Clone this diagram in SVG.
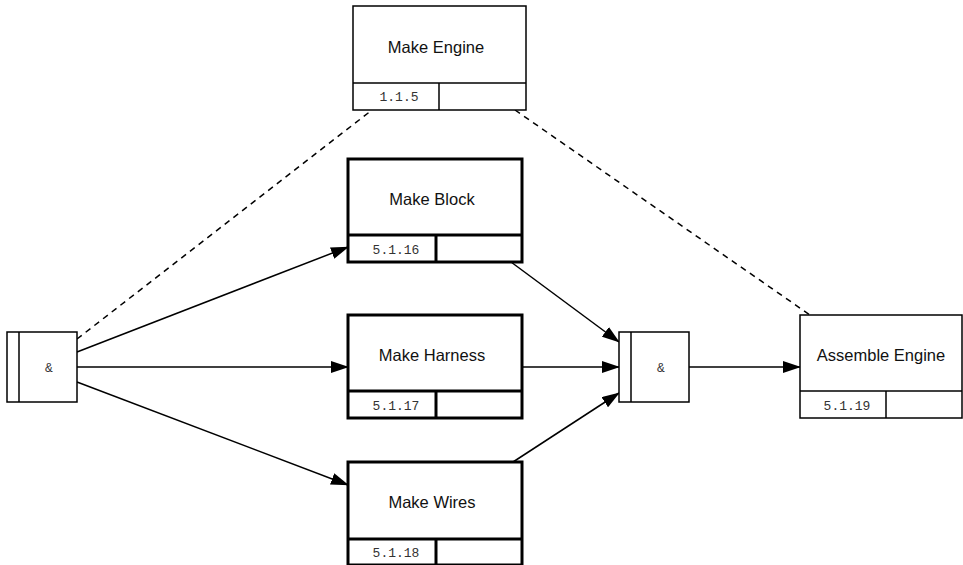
<svg xmlns="http://www.w3.org/2000/svg" width="963" height="565" viewBox="0 0 963 565">
<defs>
<marker id="arr" markerWidth="18" markerHeight="12" refX="17" refY="6" orient="auto" markerUnits="userSpaceOnUse">
<path d="M0,0 L18,6 L0,12 Z" fill="#000"/>
</marker>
<style>
.thin{fill:#fff;stroke:#000;stroke-width:1.5}
.thick{fill:#fff;stroke:#000;stroke-width:3}
.ln{fill:none;stroke:#000;stroke-width:1.5}
.lnk{fill:none;stroke:#000;stroke-width:3}
.lbl{font-family:"Liberation Sans",Arial,sans-serif;font-size:16.5px;fill:#111;text-anchor:middle}
.num{font-family:"Liberation Mono","Courier New",monospace;font-size:13px;fill:#333;text-anchor:middle}
.con{fill:none;stroke:#000;stroke-width:1.5}
.dash{stroke-dasharray:6,5}
</style>
</defs>
<rect width="963" height="565" fill="#fff"/>
<g id="connectors">
<line class="con dash" x1="77" y1="339" x2="372" y2="110"/>
<line class="con dash" x1="515" y1="110" x2="810" y2="315"/>
<line class="con" x1="77" y1="352" x2="348" y2="247" marker-end="url(#arr)"/>
<line class="con" x1="77" y1="367" x2="348" y2="367" marker-end="url(#arr)"/>
<line class="con" x1="77" y1="382" x2="348" y2="485" marker-end="url(#arr)"/>
<line class="con" x1="511" y1="262" x2="619" y2="342" marker-end="url(#arr)"/>
<line class="con" x1="522" y1="367" x2="619" y2="367" marker-end="url(#arr)"/>
<line class="con" x1="513" y1="462" x2="619" y2="393" marker-end="url(#arr)"/>
<line class="con" x1="689" y1="367" x2="800" y2="367" marker-end="url(#arr)"/>
</g>
<g id="make-engine">
<rect class="thin" x="353" y="6" width="173" height="104"/>
<line class="ln" x1="353" y1="83" x2="526" y2="83"/>
<line class="ln" x1="439" y1="83" x2="439" y2="110"/>
<text class="lbl" x="436" y="53">Make Engine</text>
<text class="num" x="399" y="101">1.1.5</text>
</g>
<g id="make-block">
<rect class="thick" x="348" y="159" width="174" height="103"/>
<line class="lnk" x1="348" y1="235" x2="522" y2="235"/>
<line class="lnk" x1="436" y1="235" x2="436" y2="262"/>
<text class="lbl" x="432" y="205">Make Block</text>
<text class="num" x="396" y="254">5.1.16</text>
</g>
<g id="make-harness">
<rect class="thick" x="348" y="315" width="174" height="103"/>
<line class="lnk" x1="348" y1="391" x2="522" y2="391"/>
<line class="lnk" x1="436" y1="391" x2="436" y2="418"/>
<text class="lbl" x="432" y="361">Make Harness</text>
<text class="num" x="396" y="410">5.1.17</text>
</g>
<g id="make-wires">
<rect class="thick" x="348" y="462" width="174" height="103"/>
<line class="lnk" x1="348" y1="539" x2="522" y2="539"/>
<line class="lnk" x1="436" y1="539" x2="436" y2="565"/>
<text class="lbl" x="432" y="508">Make Wires</text>
<text class="num" x="396" y="557">5.1.18</text>
</g>
<g id="and-left">
<rect class="thin" x="7" y="332" width="70" height="70"/>
<line class="ln" x1="19" y1="332" x2="19" y2="402"/>
<text class="num" x="49" y="372">&amp;</text>
</g>
<g id="and-right">
<rect class="thin" x="619" y="332" width="70" height="70"/>
<line class="ln" x1="631" y1="332" x2="631" y2="402"/>
<text class="num" x="661" y="372">&amp;</text>
</g>
<g id="assemble-engine">
<rect class="thin" x="800" y="315" width="162" height="103"/>
<line class="ln" x1="800" y1="391" x2="962" y2="391"/>
<line class="ln" x1="886" y1="391" x2="886" y2="418"/>
<text class="lbl" x="881" y="361">Assemble Engine</text>
<text class="num" x="847" y="410">5.1.19</text>
</g>
</svg>
